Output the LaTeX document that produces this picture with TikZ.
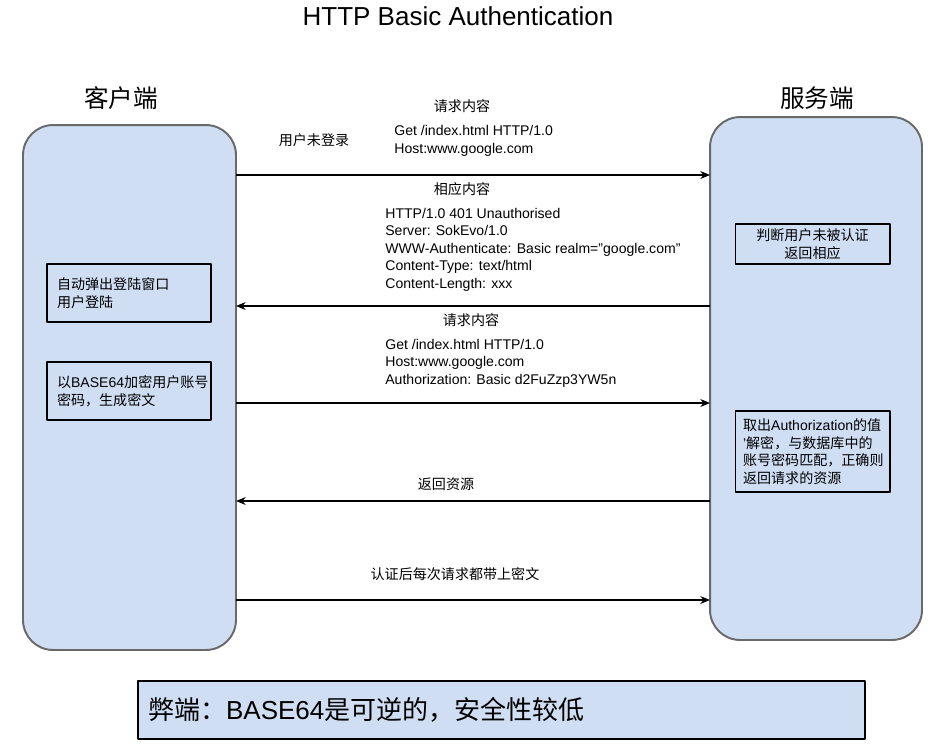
\documentclass[tikz,border=0pt]{standalone}
\usepackage{fontspec}
\setmainfont{Liberation Sans}
\newfontfamily\cjk{Noto Sans CJK SC}
\usetikzlibrary{arrows.meta}
\definecolor{lanefill}{RGB}{207,222,243}
\definecolor{laneline}{RGB}{105,105,105}
\tikzset{
  lane/.style={draw=laneline, line width=1.1pt, fill=lanefill, rounded corners=0.6cm},
  stepbox/.style={draw=black, line width=0.6pt, inner xsep=0.2cm, inner ysep=0pt, align=left,
    font=\fontsize{8}{10}\selectfont},
  msg/.style={inner sep=0pt, align=left, font=\fontsize{8}{10}\selectfont},
  side/.style={inner sep=0pt, font=\cjk\fontsize{14}{16}\selectfont},
}
\begin{document}
\begin{tikzpicture}[x=0.02cm, y=-0.02cm, line join=round, >={Stealth[length=5.5pt,width=4.5pt]}]
\useasboundingbox (0,0) rectangle (945,745);

\node[inner sep=0pt, font=\fontsize{14.8}{17}\selectfont] (title) at (458,16) {HTTP Basic Authentication};

% the two sides
\node[lane, minimum width=4.26cm, minimum height=10.5cm] (client) at (129.5,387.5) {};
\node[lane, minimum width=4.24cm, minimum height=10.46cm] (server) at (816,378.5) {};
\node[side] (clientname) at (121,98) {客户端};
\node[side] (servername) at (817,98) {服务端};

\coordinate (c1) at (236,175);
\coordinate (s1) at (710,175);
\coordinate (c2) at (236,306);
\coordinate (s2) at (710,306);
\coordinate (c3) at (236,403);
\coordinate (s3) at (710,403);
\coordinate (c4) at (236,501);
\coordinate (s4) at (710,501);
\coordinate (c5) at (236,600);
\coordinate (s5) at (710,600);

% steps on the client side
\node[stepbox, minimum width=3.28cm, minimum height=1.16cm, text width=2.88cm] (popup) at (129,293)
  {{\cjk 自动弹出登陆窗口}\\{\cjk 用户登陆}};
\node[stepbox, minimum width=3.28cm, minimum height=1.16cm, text width=2.88cm] (encode) at (129,391)
  {{\cjk 以}BASE64{\cjk 加密用户账号}\\{\cjk 密码，生成密文}};

% steps on the server side
\node[stepbox, align=center, minimum width=3.1cm, minimum height=0.8cm] (check) at (812.5,244)
  {{\cjk 判断用户未被认证}\\{\cjk 返回相应}};
\node[stepbox, inner xsep=0.16cm, minimum width=3.1cm, minimum height=1.62cm, text width=2.78cm] (decode) at (812.5,451.5)
  {{\cjk 取出}Authorization{\cjk 的值}\\'{\cjk 解密，与数据库中的}\\{\cjk 账号密码匹配，正确则}\\{\cjk 返回请求的资源}};

% messages
\draw[line width=0.6pt, ->] (c1) -- (s1);
\draw[line width=0.6pt, ->] (s2) -- (c2);
\draw[line width=0.6pt, ->] (c3) -- (s3);
\draw[line width=0.6pt, ->] (s4) -- (c4);
\draw[line width=0.6pt, ->] (c5) -- (s5);

\node[msg] (nologin) at (314,140) {\cjk 用户未登录};
\node[msg] (reqtitle) at (462,106) {\cjk 请求内容};
\node[msg, anchor=west] (reqbody) at (394,141) {Get /index.html HTTP/1.0\\Host:www.google.com};
\node[msg] (resptitle) at (462,189) {\cjk 相应内容};
\node[msg, anchor=west] (respbody) at (385,249.5)
  {HTTP/1.0 401 Unauthorised\\Server: SokEvo/1.0\\WWW-Authenticate: Basic realm="google.com"\\Content-Type: text/html\\Content-Length: xxx};
\node[msg] (authtitle) at (471,320) {\cjk 请求内容};
\node[msg, anchor=west] (authbody) at (385,363)
  {Get /index.html HTTP/1.0\\Host:www.google.com\\Authorization: Basic d2FuZzp3YW5n};
\node[msg] (resource) at (446,484) {\cjk 返回资源};
\node[msg] (always) at (455,574) {\cjk 认证后每次请求都带上密文};

% drawback
\node[draw=black, line width=0.8pt, fill=lanefill, minimum width=14.54cm, minimum height=1.16cm,
  inner xsep=0.2cm, text width=14.14cm, align=left, font=\fontsize{14.8}{17}\selectfont] (flaw) at (501.5,710)
  {{\cjk 弊端：}BASE64{\cjk 是可逆的，安全性较低}};
\end{tikzpicture}
\end{document}
